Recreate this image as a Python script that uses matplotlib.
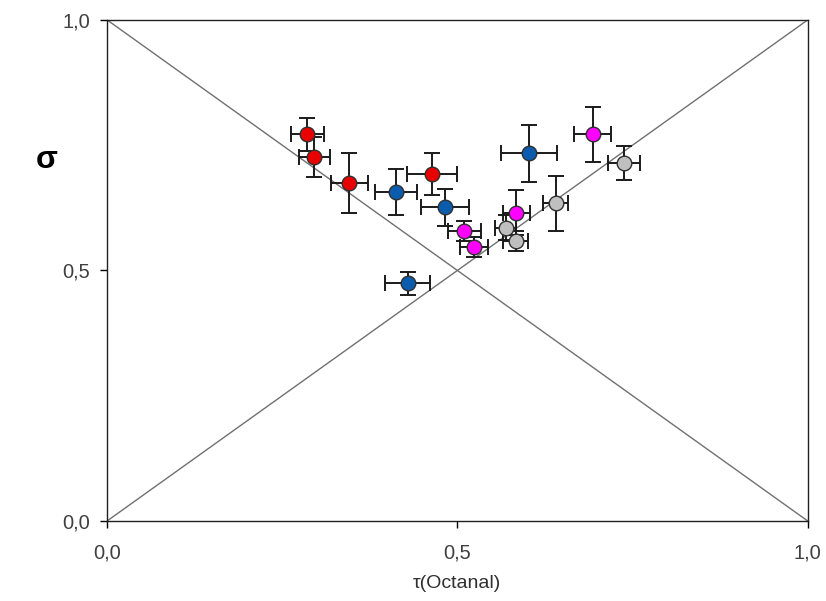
import matplotlib
matplotlib.use("Agg")
import matplotlib.pyplot as plt
from matplotlib.ticker import FuncFormatter

plt.rcParams['font.family'] = ['Liberation Sans', 'DejaVu Sans']

# red series
red_x = [0.286, 0.296, 0.346, 0.464]
red_y = [0.772, 0.726, 0.674, 0.693]
red_xerr = [0.023, 0.022, 0.026, 0.036]
red_yerr = [0.033, 0.040, 0.060, 0.042]

# blue series
blue_x = [0.412, 0.482, 0.429, 0.602]
blue_y = [0.657, 0.626, 0.474, 0.734]
blue_xerr = [0.030, 0.034, 0.032, 0.040]
blue_yerr = [0.046, 0.037, 0.022, 0.057]

# magenta series
mag_x = [0.510, 0.524, 0.584, 0.693]
mag_y = [0.579, 0.546, 0.615, 0.772]
mag_xerr = [0.024, 0.020, 0.019, 0.026]
mag_yerr = [0.020, 0.020, 0.045, 0.055]

# gray series
gray_x = [0.569, 0.583, 0.640, 0.738]
gray_y = [0.585, 0.559, 0.634, 0.714]
gray_xerr = [0.015, 0.018, 0.018, 0.023]
gray_yerr = [0.025, 0.020, 0.055, 0.034]

ticks = [0.0, 0.5, 1.0]

fig = plt.figure(figsize=(8.26, 6.01), dpi=100)
ax = fig.add_axes([0.1295, 0.133, 0.8485, 0.834])

# diagonals
ax.plot([0, 1], [0, 1], color='#707070', lw=1, zorder=1)
ax.plot([0, 1], [1, 0], color='#707070', lw=1, zorder=1)

series = [
    (red_x, red_y, red_xerr, red_yerr, '#e80000'),
    (blue_x, blue_y, blue_xerr, blue_yerr, '#0b5cad'),
    (mag_x, mag_y, mag_xerr, mag_yerr, '#ff00ff'),
    (gray_x, gray_y, gray_xerr, gray_yerr, '#bfbfbf'),
]
for x, y, xe, ye, c in series:
    ax.errorbar(x, y, xerr=xe, yerr=ye, fmt='none', ecolor='#1a1a1a',
                elinewidth=1.4, capsize=5.5, capthick=1.4, zorder=2)
    ax.plot(x, y, 'o', ms=10.5, mfc=c, mec='#303030', mew=1, zorder=3, ls='none')

ax.set_xlim(0, 1)
ax.set_ylim(0, 1)
ax.set_xticks(ticks)
ax.set_yticks(ticks)
fmt = FuncFormatter(lambda v, p: f"{v:.1f}".replace('.', ','))
ax.xaxis.set_major_formatter(fmt)
ax.yaxis.set_major_formatter(fmt)
ax.tick_params(direction='out', length=5, width=1, labelsize=14.5,
               labelcolor='#404040')
ax.tick_params(axis='x', pad=11)
ax.tick_params(axis='y', pad=7)
for s in ax.spines.values():
    s.set_linewidth(1)
    s.set_color('#202020')

ax.set_xlabel('τ(Octanal)', fontsize=14, color='#303030', labelpad=9)
fig.text(0.057, 0.733, 'σ', fontsize=23, fontweight='bold', ha='center', va='center')

fig.savefig('out.png', dpi=100)
